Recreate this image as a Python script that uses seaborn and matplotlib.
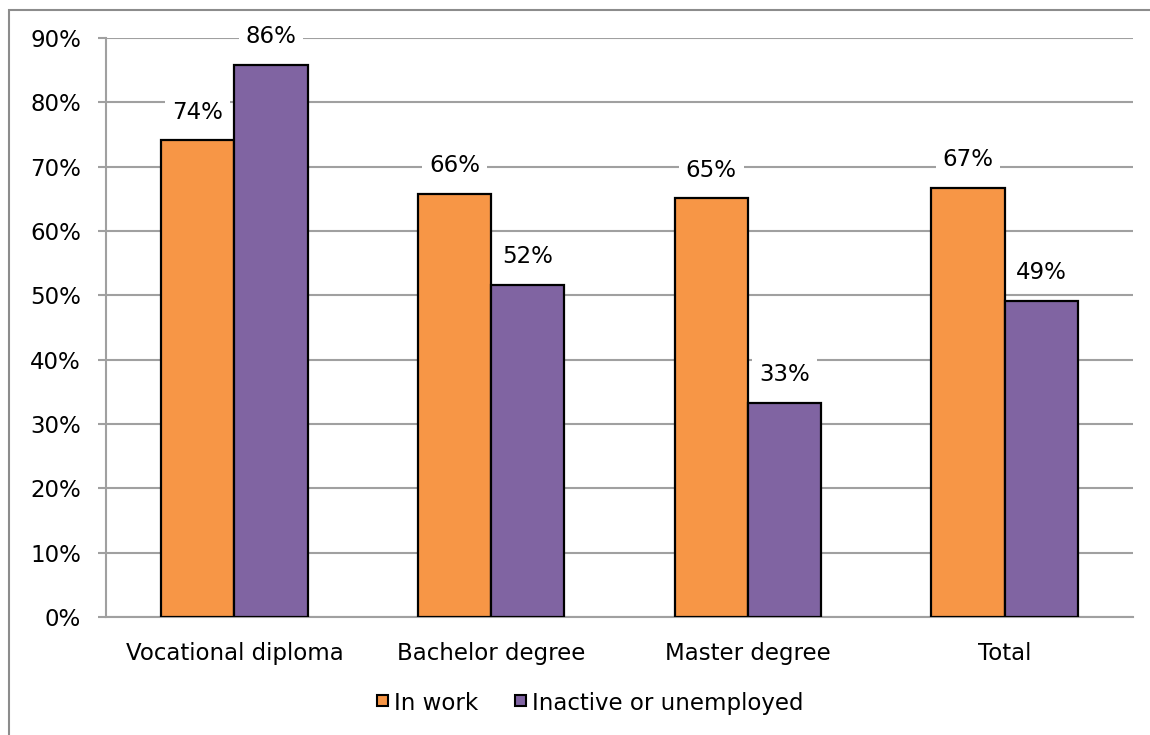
import matplotlib
matplotlib.use("Agg")
import matplotlib.pyplot as plt
import seaborn as sns
import pandas as pd
from matplotlib.patches import Rectangle
from matplotlib.ticker import FuncFormatter, MultipleLocator

categories = ["Vocational diploma", "Bachelor degree", "Master degree", "Total"]
in_work = [74.1, 65.8, 65.1, 66.7]
inactive = [85.8, 51.6, 33.3, 49.1]
series_names = ["In work", "Inactive or unemployed"]
colors = ["#F79646", "#8064A2"]

df = pd.DataFrame({
    "category": categories * 2,
    "value": in_work + inactive,
    "series": [series_names[0]] * 4 + [series_names[1]] * 4,
})

sns.set_theme(style="white")
plt.rcParams["font.family"] = ["DejaVu Sans"]
FS = 16.5
W, H = 1150, 735

fig = plt.figure(figsize=(11.5, 7.35), dpi=100)
ax = fig.add_axes([106 / W, 1 - 617 / H, (1133 - 106) / W, (617 - 38) / H])

sns.barplot(data=df, x="category", y="value", hue="series", palette=colors,
            width=0.57, gap=0, edgecolor="black", linewidth=1.6, ax=ax,
            legend=False, saturation=1, zorder=3)

ax.set_ylim(0, 90)
ax.set_xlim(-0.5, 3.5)
ax.yaxis.set_major_locator(MultipleLocator(10))
ax.yaxis.set_major_formatter(FuncFormatter(lambda v, p: f"{int(round(v))}%"))
ax.grid(axis="y", color="#A0A0A0", linewidth=1.5, zorder=0)
ax.set_axisbelow(True)
ax.set_xlabel("")
ax.set_ylabel("")

for s in ["top", "right"]:
    ax.spines[s].set_visible(False)
for s in ["left", "bottom"]:
    ax.spines[s].set_color("#A0A0A0")
    ax.spines[s].set_linewidth(1.5)

ax.set_xticks([0, 1, 2, 3])
ax.set_xticklabels(categories)
ax.set_xticks([-0.5, 0.5, 1.5, 2.5, 3.5], minor=True)
ax.tick_params(axis="x", which="major", length=0, pad=18, labelsize=FS, colors="black")
ax.tick_params(axis="x", which="minor", length=6, width=1.5, color="#A0A0A0", direction="out")
ax.tick_params(axis="y", which="major", length=6, width=1.5, color="#A0A0A0",
               direction="out", pad=12, labelsize=FS, labelcolor="black", left=True)

for cont in ax.containers:
    labels = ax.bar_label(cont, fmt="%.0f%%", padding=12, fontsize=FS, color="black")
    for t in labels:
        t.set_bbox(dict(facecolor="white", edgecolor="none", pad=5))
        t.set_zorder(4)

# Legend drawn manually so both labels share one baseline
fig.canvas.draw()
renderer = fig.canvas.get_renderer()
sq = 11          # square size, px
gap_txt = 6      # square to text, px
gap_col = 37     # between entries, px
baseline_y = 710
texts = []
widths = []
for n in series_names:
    t = fig.text(0, 1 - baseline_y / H, n, fontsize=FS, color="black",
                 va="baseline", ha="left")
    widths.append(t.get_window_extent(renderer).width)
    texts.append(t)
total = sum(sq + gap_txt + w for w in widths) + gap_col * (len(widths) - 1)
x = 590 - total / 2
for t, w, c in zip(texts, widths, colors):
    fig.patches.append(Rectangle((x / W, 1 - (baseline_y - 4) / H), sq / W, sq / H,
                                 transform=fig.transFigure, facecolor=c,
                                 edgecolor="black", linewidth=1.5))
    t.set_x((x + sq + gap_txt) / W)
    x += sq + gap_txt + w + gap_col

fig.patches.append(Rectangle((9 / W, -0.1), 1.2, 1 - 10 / H + 0.1,
                             transform=fig.transFigure, fill=False,
                             edgecolor="#8C8C8C", linewidth=1.5))

fig.savefig("out.png", dpi=100, facecolor="white")
